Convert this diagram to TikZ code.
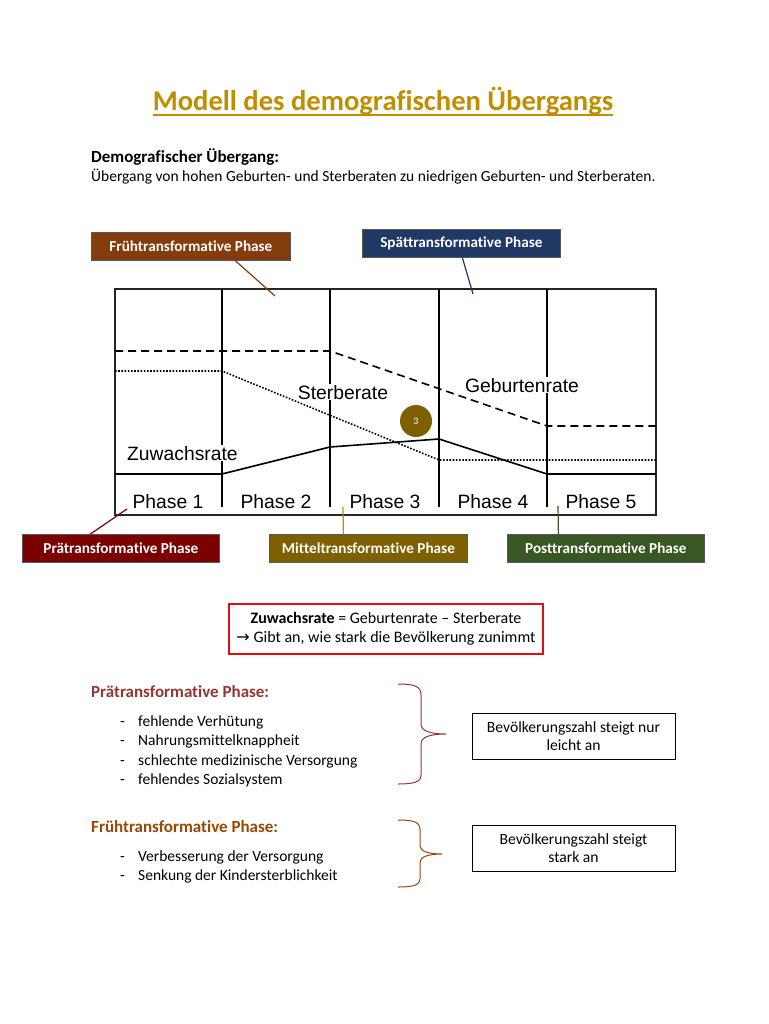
\documentclass[tikz,border=0pt]{standalone}
\usepackage{fontspec}
\setmainfont{Carlito}[Ligatures=NoCommon]
\newfontfamily\arialfont{Liberation Sans}
\newfontfamily\dejavufont{DejaVu Sans}
\definecolor{gold}{HTML}{BF8F00}
\definecolor{fruhc}{HTML}{843C0C}
\definecolor{spaetc}{HTML}{1F3864}
\definecolor{praec}{HTML}{7B0000}
\definecolor{mittelc}{HTML}{7F6000}
\definecolor{postc}{HTML}{385723}
\definecolor{boxred}{HTML}{E01010}
\definecolor{praehead}{HTML}{943634}
\definecolor{fruhhead}{HTML}{984806}
\tikzset{
  lbl/.style={draw=black!65, line width=0.8pt, text=white, font=\fontsize{15.2}{17}\selectfont\bfseries, minimum width=198pt, minimum height=28pt, inner sep=0pt, anchor=north west},
  charttext/.style={font=\arialfont\fontsize{19.3}{21}\selectfont, inner sep=1pt, fill=white},
  body/.style={font=\fontsize{15.5}{19}\selectfont, inner sep=0pt},
  bodyhead/.style={font=\fontsize{17}{20}\selectfont\bfseries, inner sep=0pt},
  conn/.style={line width=1.2pt},
  rateline/.style={line width=1.6pt},
  infobox/.style={draw=black, line width=0.8pt, minimum width=203pt, minimum height=46pt, align=center, font=\fontsize{15.6}{18}\selectfont, inner sep=0pt},
}
\begin{document}
\begin{tikzpicture}[x=1pt,y=-1pt]
\useasboundingbox (0,0) rectangle (768,1024);
\fill[white] (0,0) rectangle (768,1024);
% title
\node[anchor=base, inner sep=0pt, text=gold, font=\fontsize{28.6}{32}\selectfont\bfseries] (title) at (383,111) {Modell des demografischen Übergangs};
\draw[gold, line width=1.3pt] ([yshift=-4pt]title.base west) -- ([yshift=-4pt]title.base east);
\node[bodyhead, anchor=base west] (dhead) at (91,163) {Demografischer Übergang:};
\node[body, anchor=base west] (dtext) at (91,182) {Übergang von hohen Geburten- und Sterberaten zu niedrigen Geburten- und Sterberaten.};

% chart
\draw[black!85, line width=1.8pt] (115,289) rectangle (656,515);
\foreach \x in {222,330,439,547} \draw[black, line width=1.3pt] (\x,289) -- (\x,507);
\draw[rateline, dash pattern=on 8pt off 5pt] (115,351) -- (330,351) -- (547,426) -- (656,426);
\draw[rateline, dash pattern=on 1.6pt off 1.6pt] (115,371) -- (222,371) -- (439,460) -- (656,460);
\draw[rateline] (115,474) -- (222,474) -- (330,447) -- (439,439) -- (547,474) -- (656,474);
\node[charttext, anchor=base] (sterb) at (343,399) {Sterberate};
\node[charttext, anchor=base] (geb) at (522,392) {Geburtenrate};
\node[charttext, anchor=base west] (zuw) at (126,460) {Zuwachsrate};
\node[charttext, fill=none, anchor=base] (p1) at (168,508) {Phase 1};
\node[charttext, fill=none, anchor=base] (p2) at (276,508) {Phase 2};
\node[charttext, fill=none, anchor=base] (p3) at (385,508) {Phase 3};
\node[charttext, fill=none, anchor=base] (p4) at (493,508) {Phase 4};
\node[charttext, fill=none, anchor=base] (p5) at (601,508) {Phase 5};
\node[circle, fill=mittelc, minimum size=32pt, inner sep=0pt, text=white, font=\fontsize{10}{10}\selectfont] (c3) at (416,421) {3};

% phase labels
\node[lbl, fill=fruhc, minimum width=199pt] (fruh) at (91,232) {Frühtransformative Phase};
\node[lbl, fill=spaetc] (spaet) at (362,229) {Spättransformative Phase};
\node[lbl, fill=praec, minimum width=197pt] (prae) at (22,534) {Prätransformative Phase};
\node[lbl, fill=mittelc] (mittel) at (269,534) {Mitteltransformative Phase};
\node[lbl, fill=postc, minimum width=197pt] (post) at (507,534) {Posttransformative Phase};
\coordinate (fruhT) at (275,296);
\coordinate (spaetT) at (473,294);
\coordinate (praeT) at (127,509);
\coordinate (mittelT) at (343,507);
\coordinate (postT) at (558,506);
\draw[conn, fruhc] ([xshift=44.5pt]fruh.south) -- (fruhT);
\draw[conn, spaetc] ([xshift=1pt]spaet.south) -- (spaetT);
\draw[conn, praec] ([xshift=-30.5pt]prae.north) -- (praeT);
\draw[conn, gold] ([xshift=-25pt]mittel.north) -- (mittelT);
\draw[conn, postc] ([xshift=-47.5pt]post.north) -- (postT);

% red box
\node[draw=boxred, line width=1.5pt, minimum width=314pt, minimum height=50pt, align=center, font=\fontsize{16}{19.5}\selectfont, inner sep=0pt] (zwbox) at (386,629) {\textbf{Zuwachsrate} = Geburtenrate – Sterberate\\{\dejavufont\fontsize{16}{16}\selectfont →} Gibt an, wie stark die Bevölkerung zunimmt};

% Praetransformative list
\node[bodyhead, anchor=base west, text=praehead] (praeh) at (91,697) {Prätransformative Phase:};
\foreach \yy/\t [count=\i] in {726/fehlende Verhütung, 745/Nahrungsmittelknappheit, 765/schlechte medizinische Versorgung, 784/fehlendes Sozialsystem}{
  \node[body, anchor=base west] (pd\i) at (120,\yy) {-};
  \node[body, anchor=base west] (pt\i) at (138,\yy) {\t};
}
\draw[praehead, line width=1pt] (398,684) .. controls (414,684) and (421,686) .. (421,695) -- (421,724) .. controls (421,731) and (430,734) .. (446,734) .. controls (430,734) and (421,737) .. (421,744) -- (421,775) .. controls (421,782) and (414,784) .. (398,784);
\node[infobox] (praebox) at (573.5,736) {Bevölkerungszahl steigt nur\\leicht an};

% Fruehtransformative list
\node[bodyhead, anchor=base west, text=fruhhead] (fruhh) at (91,832) {Frühtransformative Phase:};
\foreach \yy/\t [count=\i] in {861/Verbesserung der Versorgung, 880/Senkung der Kindersterblichkeit}{
  \node[body, anchor=base west] (fd\i) at (120,\yy) {-};
  \node[body, anchor=base west] (ft\i) at (138,\yy) {\t};
}
\draw[fruhhead, line width=1pt] (398,820) .. controls (414,820) and (420,822) .. (420,830) -- (420,846) .. controls (420,851) and (428,854) .. (442,854) .. controls (428,854) and (420,857) .. (420,862) -- (420,878) .. controls (420,885) and (414,887) .. (398,887);
\node[infobox] (fruhbox) at (573.5,848) {Bevölkerungszahl steigt\\stark an};
\end{tikzpicture}
\end{document}
